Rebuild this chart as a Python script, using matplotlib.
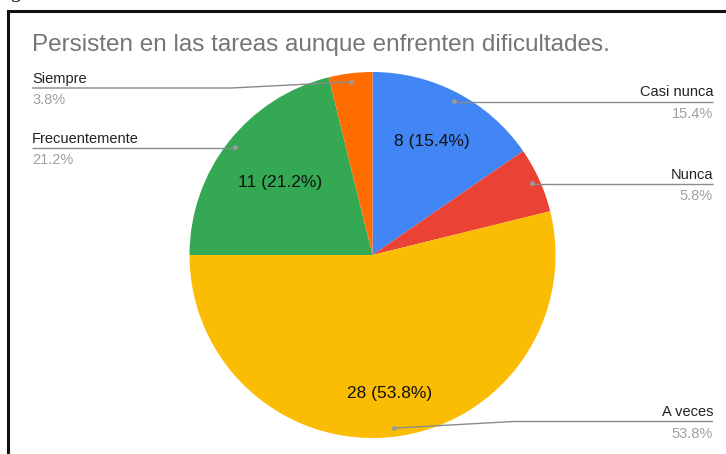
import numpy as np
import matplotlib.pyplot as plt

plt.rcParams['font.family'] = ['Liberation Sans', 'DejaVu Sans']

title = "Persisten en las tareas aunque enfrenten dificultades."
categories = ["Casi nunca", "Nunca", "A veces", "Frecuentemente", "Siempre"]
counts = [8, 3, 28, 11, 2]
colors = ["#4285f4", "#ea4335", "#fbbc04", "#34a853", "#ff6d01"]

# layout (pixels from the top of the image)
W, H = 726, 454
cx, cy, r = 372.5, H - 255, 183
inner_r = [0.70, 0.0, 0.76, 0.64, 0.0]    # where the in-slice labels sit
line_y = [101.5, 184, 421.5, 148.3, 88]   # y of each leader line
elbow_dx = 120

fig = plt.figure(figsize=(7.26, 4.54), dpi=100)
ax = fig.add_axes([0, 0, 1, 1])

wedges, _ = ax.pie(counts, colors=colors, startangle=90, counterclock=False,
                   center=(cx, cy), radius=r, frame=True,
                   wedgeprops=dict(linewidth=0))
ax.set_xlim(0, W)
ax.set_ylim(0, H)
ax.set_aspect('auto')
ax.axis('off')

total = sum(counts)
for w, name, n, fr, ly in zip(wedges, categories, counts, inner_r, line_y):
    pct = n / total * 100
    mid = np.deg2rad((w.theta1 + w.theta2) / 2)
    # value label inside the slice
    if pct > 10:
        ax.text(cx + fr * r * np.cos(mid), cy + fr * r * np.sin(mid),
                f"{n} ({pct:.1f}%)", ha='center', va='center',
                fontsize=12.5, color='#111111')
    # leader line with dot
    dx, dy = cx + 0.953 * r * np.cos(mid), cy + 0.953 * r * np.sin(mid)
    yl = H - ly
    right = dx > cx
    xend = 713 if right else 32
    s = 1 if right else -1
    if abs(yl - dy) > 1:
        xs = [dx, dx + s * elbow_dx, xend]
        ys = [dy, yl, yl]
    else:
        xs = [dx, xend]
        ys = [yl, yl]
    ax.plot(xs, ys, color='#8a8a8a', lw=1.0, solid_capstyle='butt')
    ax.plot(dx, dy, 'o', ms=3.5, color='#9a9a9a', mec='none')
    ha = 'right' if right else 'left'
    ax.text(xend, yl + 5, name, ha=ha, va='baseline', fontsize=10.5, color='#222222')
    ax.text(xend, yl - 5, f"{pct:.1f}%", ha=ha, va='top', fontsize=10.5, color='#a0a0a0')

ax.text(32, H - 45, title, ha='left', va='center', fontsize=17.5, color='#757575')

# border of the screenshot frame and a cut-off caption letter above it
ax.plot([8, 8, W + 10], [-10, H - 11, H - 11], color='#111111', lw=2.2,
        clip_on=False, solid_joinstyle='miter')
fig.text(10 / W, 1 + 1.5 / H, 'g', family='Liberation Serif', fontsize=14,
         va='baseline', ha='left', color='black')

fig.savefig('out.png', dpi=100)
